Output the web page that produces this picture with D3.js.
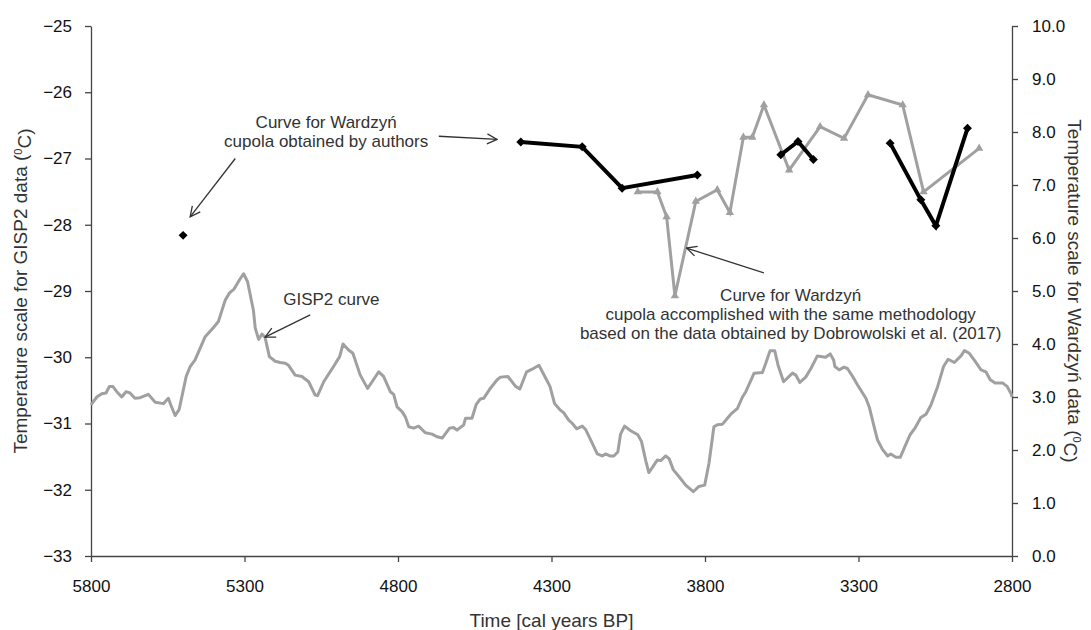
<!DOCTYPE html>
<html>
<head>
<meta charset="utf-8">
<script src="https://cdn.jsdelivr.net/npm/d3@7"></script>
<style>
  body { margin: 0; background: #fff; }
  svg text { font-family: "Liberation Sans", Arial, sans-serif; fill: #222; }
  .axis path, .axis line { stroke: #444; stroke-width: 1.3; }
  .axis text { font-size: 17px; fill: #111; }
</style>
</head>
<body>
<svg id="chart" width="1091" height="630"></svg>
<script>
// GISP2 record (left scale)
var gispYears = [5800,5781,5765,5751,5740,5729,5716,5700,5686,5673,5657,5640,5613,5591,5564,5548,5540,5526,5513,5490,
  5477,5461,5428,5401,5385,5363,5349,5334,5316,5303,5290,5271,5265,5254,5243,5233,5219,5200,5184,5167,
  5157,5135,5113,5091,5070,5062,5042,5010,4990,4979,4961,4947,4923,4899,4880,4863,4847,4825,4814,4803,
  4787,4776,4765,4749,4733,4711,4689,4673,4656,4632,4619,4608,4586,4580,4559,4545,4532,4521,4501,4477,
  4466,4442,4417,4403,4381,4363,4341,4323,4305,4290,4273,4260,4244,4232,4218,4200,4189,4167,4151,4135,
  4124,4110,4097,4084,4075,4062,4042,4019,4007,3993,3983,3968,3955,3944,3928,3917,3903,3885,3863,3838,
  3820,3801,3787,3771,3760,3743,3716,3694,3678,3667,3640,3613,3602,3588,3573,3562,3544,3515,3504,3491,
  3472,3455,3434,3407,3392,3381,3377,3363,3347,3336,3319,3303,3276,3265,3249,3238,3222,3205,3195,3178,
  3164,3149,3132,3116,3097,3080,3064,3042,3023,3008,2988,2966,2955,2939,2917,2901,2885,2871,2855,2830,
  2816,2803,2800];
var gispTemps = [-30.72,-30.60,-30.55,-30.54,-30.44,-30.44,-30.52,-30.60,-30.52,-30.54,-30.62,-30.61,-30.56,-30.68,-30.70,-30.62,-30.72,-30.88,-30.79,-30.29,
  -30.14,-30.04,-29.69,-29.55,-29.46,-29.14,-29.03,-28.97,-28.83,-28.74,-28.86,-29.29,-29.56,-29.73,-29.65,-29.70,-29.99,-30.06,-30.08,-30.09,
  -30.12,-30.27,-30.29,-30.37,-30.57,-30.58,-30.37,-30.14,-29.99,-29.80,-29.89,-29.94,-30.27,-30.47,-30.34,-30.22,-30.29,-30.52,-30.56,-30.75,
  -30.82,-30.90,-31.05,-31.07,-31.04,-31.14,-31.16,-31.20,-31.22,-31.07,-31.06,-31.10,-31.02,-30.92,-30.92,-30.71,-30.63,-30.62,-30.48,-30.34,
  -30.30,-30.29,-30.44,-30.48,-30.22,-30.18,-30.12,-30.28,-30.44,-30.70,-30.79,-30.84,-30.95,-31.00,-31.08,-31.04,-31.09,-31.30,-31.46,-31.49,
  -31.46,-31.49,-31.49,-31.43,-31.16,-31.04,-31.11,-31.17,-31.27,-31.56,-31.74,-31.64,-31.55,-31.56,-31.49,-31.53,-31.70,-31.80,-31.93,-32.03,
  -31.95,-31.93,-31.60,-31.05,-31.02,-31.01,-30.86,-30.77,-30.60,-30.52,-30.24,-30.23,-30.09,-29.90,-29.90,-30.12,-30.37,-30.24,-30.27,-30.38,
  -30.30,-30.17,-29.98,-30.00,-29.95,-30.04,-30.14,-30.19,-30.15,-30.17,-30.29,-30.42,-30.62,-30.75,-31.05,-31.25,-31.39,-31.49,-31.46,-31.51,
  -31.51,-31.35,-31.17,-31.07,-30.91,-30.86,-30.72,-30.44,-30.14,-30.03,-30.08,-29.98,-29.90,-29.94,-30.08,-30.19,-30.22,-30.34,-30.39,-30.39,
  -30.44,-30.55,-30.60];

// Wardzyn curve obtained by authors (right scale), null = gap
var authorsYears = [5500, null, 4400, 4200, 4070, 3825, null, 3553, 3497, 3447, null, 3197, 3097, 3048, 2945];
var authorsTemps = [6.05, null, 7.81, 7.72, 6.94, 7.19, null, 7.57, 7.82, 7.48, null, 7.79, 6.72, 6.23, 8.07];

// Wardzyn curve from Dobrowolski et al. (2017) data (right scale)
var dobroYears = [4019, 3955, 3925, 3898, 3830, 3760, 3719, 3675, 3646, 3608, 3526, 3425, 3347, 3269, 3156, 3088, 2907];
var dobroTemps = [6.87, 6.87, 6.40, 4.91, 6.69, 6.91, 6.48, 7.90, 7.90, 8.51, 7.28, 8.10, 7.88, 8.70, 8.51, 6.87, 7.69];

var xTicks = [5800, 5300, 4800, 4300, 3800, 3300, 2800];
var leftTicks = [-33, -32, -31, -30, -29, -28, -27, -26, -25];
var rightTicks = [0, 1, 2, 3, 4, 5, 6, 7, 8, 9, 10];

// annotations, positioned in (year, right-scale value)
var notes = [
  {year: 5034, temp: 8.08, lines: ["Curve for Wardzyń", "cupola obtained by authors"]},
  {year: 5017, temp: 4.74, lines: ["GISP2 curve"]},
  {year: 3521, temp: 4.81, lines: ["Curve for Wardzyń", "cupola accomplished with the same methodology", "based on the data obtained by Dobrowolski et al. (2017)"]}
];
var arrows = [
  {from: [4667, 7.92], to: [4477, 7.86]},
  {from: [5330, 7.50], to: [5477, 6.40]},
  {from: [5086, 4.55], to: [5233, 4.13]},
  {from: [3608, 5.34], to: [3860, 5.81]}
];

var margin = {top: 26, right: 79, bottom: 74, left: 91}
  , width = 1091 - margin.left - margin.right
  , height = 630 - margin.top - margin.bottom;

var svg = d3.select("#chart");
var g = svg.append("g")
  .attr("transform", "translate(" + margin.left + "," + margin.top + ")");

var x = d3.scaleLinear().domain([5800, 2800]).range([0, width]);
var yL = d3.scaleLinear().domain([-33, -25]).range([height, 0]);
var yR = d3.scaleLinear().domain([0, 10]).range([height, 0]);

// axes
g.append("g")
  .attr("class", "axis")
  .attr("transform", "translate(0," + height + ")")
  .call(d3.axisBottom(x).tickValues(xTicks).tickFormat(d3.format("d")).tickSize(6).tickSizeOuter(0).tickPadding(18));

g.append("g")
  .attr("class", "axis")
  .call(d3.axisLeft(yL).tickValues(leftTicks).tickSize(6).tickSizeOuter(0).tickPadding(13));

g.append("g")
  .attr("class", "axis")
  .attr("transform", "translate(" + width + ",0)")
  .call(d3.axisRight(yR).tickValues(rightTicks).tickFormat(d3.format(".1f")).tickSize(6).tickSizeOuter(0).tickPadding(14));

// GISP2 line
var gispData = gispYears.map((d, i) => ({year: d, temp: gispTemps[i]}));
g.append("path")
  .datum(gispData)
  .attr("fill", "none")
  .attr("stroke", "#a0a0a0")
  .attr("stroke-width", 3)
  .attr("stroke-linejoin", "round")
  .attr("d", d3.line().x(d => x(d.year)).y(d => yL(d.temp)));

// Dobrowolski line + triangles
var dobroData = dobroYears.map((d, i) => ({year: d, temp: dobroTemps[i]}));
g.append("path")
  .datum(dobroData)
  .attr("fill", "none")
  .attr("stroke", "#a0a0a0")
  .attr("stroke-width", 3)
  .attr("d", d3.line().x(d => x(d.year)).y(d => yR(d.temp)));
g.selectAll(".tri")
  .data(dobroData)
 .enter().append("path")
  .attr("class", "tri")
  .attr("transform", d => "translate(" + x(d.year) + "," + yR(d.temp) + ")")
  .attr("d", d3.symbol().type(d3.symbolTriangle).size(30))
  .attr("fill", "#a0a0a0");

// authors line + diamonds
var authorsData = authorsYears.map((d, i) => ({year: d, temp: authorsTemps[i]}));
g.append("path")
  .datum(authorsData)
  .attr("fill", "none")
  .attr("stroke", "#000")
  .attr("stroke-width", 4)
  .attr("d", d3.line().defined(d => d.year != null).x(d => x(d.year)).y(d => yR(d.temp)));
g.selectAll(".dia")
  .data(authorsData.filter(d => d.year != null))
 .enter().append("path")
  .attr("class", "dia")
  .attr("transform", d => "translate(" + x(d.year) + "," + yR(d.temp) + ") rotate(45)")
  .attr("d", d3.symbol().type(d3.symbolSquare).size(40))
  .attr("fill", "#000");

// arrow heads
svg.append("defs").append("marker")
  .attr("id", "arrowhead")
  .attr("viewBox", "0 0 12 12")
  .attr("refX", 11).attr("refY", 6)
  .attr("markerWidth", 12).attr("markerHeight", 12)
  .attr("markerUnits", "userSpaceOnUse")
  .attr("orient", "auto")
 .append("path")
  .attr("d", "M1,1 L11,6 L1,11")
  .attr("fill", "none")
  .attr("stroke", "#333")
  .attr("stroke-width", 1.3);

g.selectAll(".arrow")
  .data(arrows)
 .enter().append("line")
  .attr("class", "arrow")
  .attr("x1", d => x(d.from[0])).attr("y1", d => yR(d.from[1]))
  .attr("x2", d => x(d.to[0])).attr("y2", d => yR(d.to[1]))
  .attr("stroke", "#333")
  .attr("stroke-width", 1.3)
  .attr("marker-end", "url(#arrowhead)");

g.selectAll(".note")
  .data(notes)
 .enter().append("text")
  .attr("class", "note")
  .attr("text-anchor", "middle")
  .style("font-size", "17px")
  .style("fill", "#333")
  .each(function(d) {
    var t = d3.select(this);
    d.lines.forEach(function(line, i) {
      t.append("tspan")
        .attr("x", x(d.year))
        .attr("y", yR(d.temp) + i * 19)
        .text(line);
    });
  });

// axis titles
var leftTitle = svg.append("text")
  .attr("transform", "translate(27," + (margin.top + height / 2) + ") rotate(-90)")
  .attr("text-anchor", "middle")
  .style("font-size", "19px")
  .style("fill", "#333");
leftTitle.append("tspan").text("Temperature scale for GISP2 data (");
leftTitle.append("tspan").attr("dy", "-0.45em").style("font-size", "11px").text("0");
leftTitle.append("tspan").attr("dy", "0.45em").text("C)");

var rightTitle = svg.append("text")
  .attr("transform", "translate(1068," + (margin.top + height / 2) + ") rotate(90)")
  .attr("text-anchor", "middle")
  .style("font-size", "19px")
  .style("fill", "#333");
rightTitle.append("tspan").text("Temperature scale for Wardzyń data (");
rightTitle.append("tspan").attr("dy", "-0.45em").style("font-size", "11px").text("0");
rightTitle.append("tspan").attr("dy", "0.45em").text("C)");

svg.append("text")
  .attr("x", margin.left + width / 2)
  .attr("y", 627)
  .attr("text-anchor", "middle")
  .style("font-size", "19px")
  .style("fill", "#333")
  .text("Time [cal years BP]");
</script>
</body>
</html>
